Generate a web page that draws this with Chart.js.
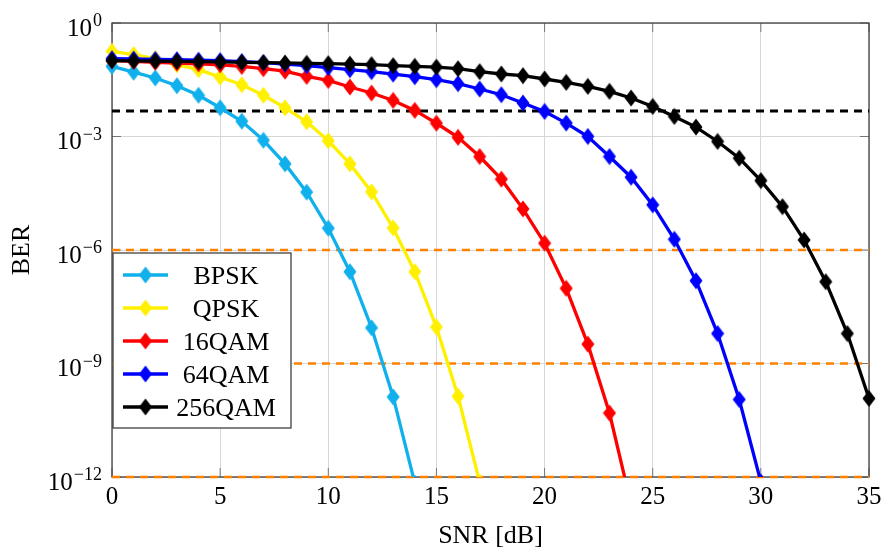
<!DOCTYPE html>
<html>
<head>
<meta charset="utf-8">
<title>BER vs SNR</title>
<script src="https://cdn.jsdelivr.net/npm/chart.js@4.4.1/dist/chart.umd.min.js"></script>
<style>
  html, body { margin: 0; padding: 0; background: #fff; }
  #wrap { width: 886px; height: 548px; }
</style>
</head>
<body>
<div id="wrap"><canvas id="berChart" width="886" height="548"></canvas></div>
<script>
// SNR axis (dB)
const snr = [0, 1, 2, 3, 4, 5, 6, 7, 8, 9, 10, 11, 12, 13, 14, 15, 16, 17,
  18, 19, 20, 21, 22, 23, 24, 25, 26, 27, 28, 29, 30, 31, 32, 33, 34, 35];

// BER per modulation, one value per SNR step
const berBpsk = [0.0714, 0.0501, 0.0352, 0.0220, 0.0123, 5.75e-3, 2.53e-3, 7.94e-4,
  1.89e-4, 3.38e-5, 3.76e-6, 2.67e-7, 8.8e-9, 1.31e-10, 6.9e-13];
const berQpsk = [0.178, 0.146, 0.114, 0.0792, 0.0584, 0.0370, 0.0234, 0.0123, 5.75e-3,
  2.45e-3, 7.7e-4, 1.89e-4, 3.44e-5, 3.83e-6, 2.67e-7, 9.2e-9, 1.36e-10, 7.2e-13];
const ber16qam = [0.101, 0.0962, 0.0916, 0.0868, 0.0826, 0.0782, 0.0710, 0.0620, 0.0533,
  0.0388, 0.0304, 0.0203, 0.0141, 8.98e-3, 4.89e-3, 2.24e-3, 9.5e-4, 2.96e-4, 7.45e-5,
  1.22e-5, 1.51e-6, 9.7e-8, 3.25e-9, 4.9e-11, 1.9e-13];
const ber64qam = [0.114, 0.112, 0.109, 0.107, 0.104, 0.101, 0.0951, 0.0895, 0.0816,
  0.0745, 0.0659, 0.0584, 0.0517, 0.0444, 0.0381, 0.0317, 0.0249, 0.0180, 0.0127,
  7.67e-3, 4.59e-3, 2.26e-3, 1.0e-3, 2.96e-4, 8.4e-5, 1.56e-5, 1.92e-6, 1.54e-7,
  6.2e-9, 1.12e-10, 7.4e-13];
const ber256qam = [0.101, 0.0993, 0.098, 0.0968, 0.0951, 0.0933, 0.0911, 0.0895, 0.0879,
  0.0857, 0.0841, 0.0816, 0.0792, 0.0745, 0.0714, 0.0680, 0.0620, 0.0517, 0.0449,
  0.0405, 0.0331, 0.0269, 0.0211, 0.0156, 0.0104, 6.23e-3, 3.39e-3, 1.77e-3, 7.38e-4,
  2.68e-4, 6.84e-5, 1.40e-5, 1.84e-6, 1.45e-7, 6.2e-9, 1.19e-10];

const seriesLabels = ['BPSK', 'QPSK', '16QAM', '64QAM', '256QAM'];
const seriesColors = ['#10b0ec', '#fff000', '#ff0000', '#0000ff', '#000000'];

// FEC threshold and target BER levels (horizontal reference lines)
const fecLimit = 4.7e-3;
const targetLevels = [1e-6, 1e-9, 1e-12];

// tick values
const xTicks = [0, 5, 10, 15, 20, 25, 30, 35];
const yTickExps = [0, -3, -6, -9, -12];

const FONT = '"Liberation Serif", "DejaVu Serif", serif';
const LINE_W = 3.3;

// tall diamond marker, reused for plot and legend
function diamond(color) {
  const c = document.createElement('canvas');
  c.width = 14;
  c.height = 18;
  const g = c.getContext('2d');
  g.fillStyle = color;
  g.beginPath();
  g.moveTo(7, 0.5);
  g.lineTo(13.5, 9);
  g.lineTo(7, 17.5);
  g.lineTo(0.5, 9);
  g.closePath();
  g.fill();
  return c;
}

const markers = seriesColors.map(diamond);
const allBer = [berBpsk, berQpsk, ber16qam, ber64qam, ber256qam];

const seriesSets = allBer.map((vals, i) => ({
  label: seriesLabels[i],
  data: vals.map((v, k) => ({ x: snr[k], y: v })),
  borderColor: seriesColors[i],
  backgroundColor: seriesColors[i],
  borderWidth: LINE_W,
  pointStyle: markers[i],
  pointRadius: 8,
  pointHoverRadius: 8,
  tension: 0,
  order: seriesLabels.length - i,
  clip: { left: 12, top: 12, right: 12, bottom: 0 }
}));

const refSets = [
  {
    label: 'FEC limit',
    data: [{ x: 0, y: fecLimit }, { x: 35, y: fecLimit }],
    borderColor: '#000',
    borderWidth: 3,
    borderDash: [8, 6],
    pointRadius: 0,
    order: 10,
    clip: { left: 0, top: 0, right: 0, bottom: 0 }
  }
].concat(targetLevels.map(lv => ({
  label: 'target',
  data: [{ x: 0, y: lv }, { x: 35, y: lv }],
  borderColor: '#ff8000',
  borderWidth: 2.6,
  borderDash: [8, 6],
  pointRadius: 0,
  order: 11,
  clip: { left: 0, top: 0, right: 0, bottom: 4 }
})));

// frame, inner tick marks, tick labels, axis titles and legend
const decorPlugin = {
  id: 'decor',
  beforeDatasetsDraw(chart) {
    const { ctx, chartArea: a, scales } = chart;
    ctx.save();
    ctx.strokeStyle = '#777';
    ctx.lineWidth = 1;
    ctx.beginPath();
    xTicks.forEach(t => {
      const x = scales.x.getPixelForValue(t);
      ctx.moveTo(x, a.bottom); ctx.lineTo(x, a.bottom - 9);
      ctx.moveTo(x, a.top); ctx.lineTo(x, a.top + 9);
    });
    yTickExps.forEach(e => {
      const y = scales.y.getPixelForValue(Math.pow(10, e));
      ctx.moveTo(a.left, y); ctx.lineTo(a.left + 9, y);
      ctx.moveTo(a.right, y); ctx.lineTo(a.right - 9, y);
    });
    ctx.stroke();
    ctx.strokeStyle = '#404040';
    ctx.lineWidth = 1.3;
    ctx.strokeRect(a.left, a.top, a.right - a.left, a.bottom - a.top);
    ctx.restore();
  },
  afterDatasetsDraw(chart) {
    const { ctx, chartArea: a } = chart;
    ctx.save();
    // legend box
    const lx = a.left + 1, ly = 253, lw = 178, lh = 175;
    ctx.fillStyle = '#fff';
    ctx.fillRect(lx, ly, lw, lh);
    ctx.strokeStyle = '#404040';
    ctx.lineWidth = 1.3;
    ctx.strokeRect(lx, ly, lw, lh);
    ctx.font = '26px ' + FONT;
    ctx.textAlign = 'center';
    ctx.textBaseline = 'alphabetic';
    seriesLabels.forEach((name, i) => {
      const y = ly + 22 + i * 33;
      ctx.strokeStyle = seriesColors[i];
      ctx.lineWidth = LINE_W;
      ctx.beginPath();
      ctx.moveTo(lx + 10, y);
      ctx.lineTo(lx + 55, y);
      ctx.stroke();
      ctx.drawImage(markers[i], lx + 32.5 - 7, y - 9);
      ctx.fillStyle = '#000';
      ctx.fillText(name, lx + 113, y + 9);
    });
    ctx.restore();
  },
  afterDraw(chart) {
    const { ctx, chartArea: a, scales } = chart;
    ctx.save();
    ctx.fillStyle = '#000';
    ctx.textBaseline = 'alphabetic';
    // x tick labels
    ctx.font = '25px ' + FONT;
    ctx.textAlign = 'center';
    xTicks.forEach(t => {
      ctx.fillText(String(t), scales.x.getPixelForValue(t), a.bottom + 27);
    });
    // y tick labels as 10^e
    yTickExps.forEach(e => {
      const y = scales.y.getPixelForValue(Math.pow(10, e));
      const exp = e === 0 ? '0' : '\u2212' + Math.abs(e);
      const right = a.left - 10;
      ctx.textAlign = 'right';
      ctx.font = '18px ' + FONT;
      ctx.fillText(exp, right, y + 3);
      const ew = ctx.measureText(exp).width;
      ctx.font = '25px ' + FONT;
      ctx.fillText('10', right - ew - 1, y + 12.5);
    });
    // axis titles
    ctx.font = '26px ' + FONT;
    ctx.textAlign = 'center';
    ctx.fillText('SNR [dB]', (a.left + a.right) / 2, 543);
    ctx.translate(29, (a.top + a.bottom) / 2);
    ctx.rotate(-Math.PI / 2);
    ctx.fillText('BER', 0, 0);
    ctx.restore();
  }
};

new Chart(document.getElementById('berChart'), {
  type: 'line',
  data: { datasets: seriesSets.concat(refSets) },
  options: {
    responsive: false,
    animation: false,
    events: [],
    layout: { padding: { left: 112, top: 23, right: 17, bottom: 71 } },
    plugins: {
      legend: { display: false },
      tooltip: { enabled: false }
    },
    scales: {
      x: {
        type: 'linear',
        min: 0,
        max: 35,
        afterBuildTicks: s => { s.ticks = xTicks.map(v => ({ value: v })); },
        ticks: { display: false },
        grid: { color: '#d6d6d6', lineWidth: 1, drawTicks: false },
        border: { display: false }
      },
      y: {
        type: 'logarithmic',
        min: 1e-12,
        max: 1,
        afterBuildTicks: s => { s.ticks = yTickExps.map(e => ({ value: Math.pow(10, e) })); },
        ticks: { display: false },
        grid: { color: '#d6d6d6', lineWidth: 1, drawTicks: false },
        border: { display: false }
      }
    }
  },
  plugins: [decorPlugin]
});
</script>
</body>
</html>
